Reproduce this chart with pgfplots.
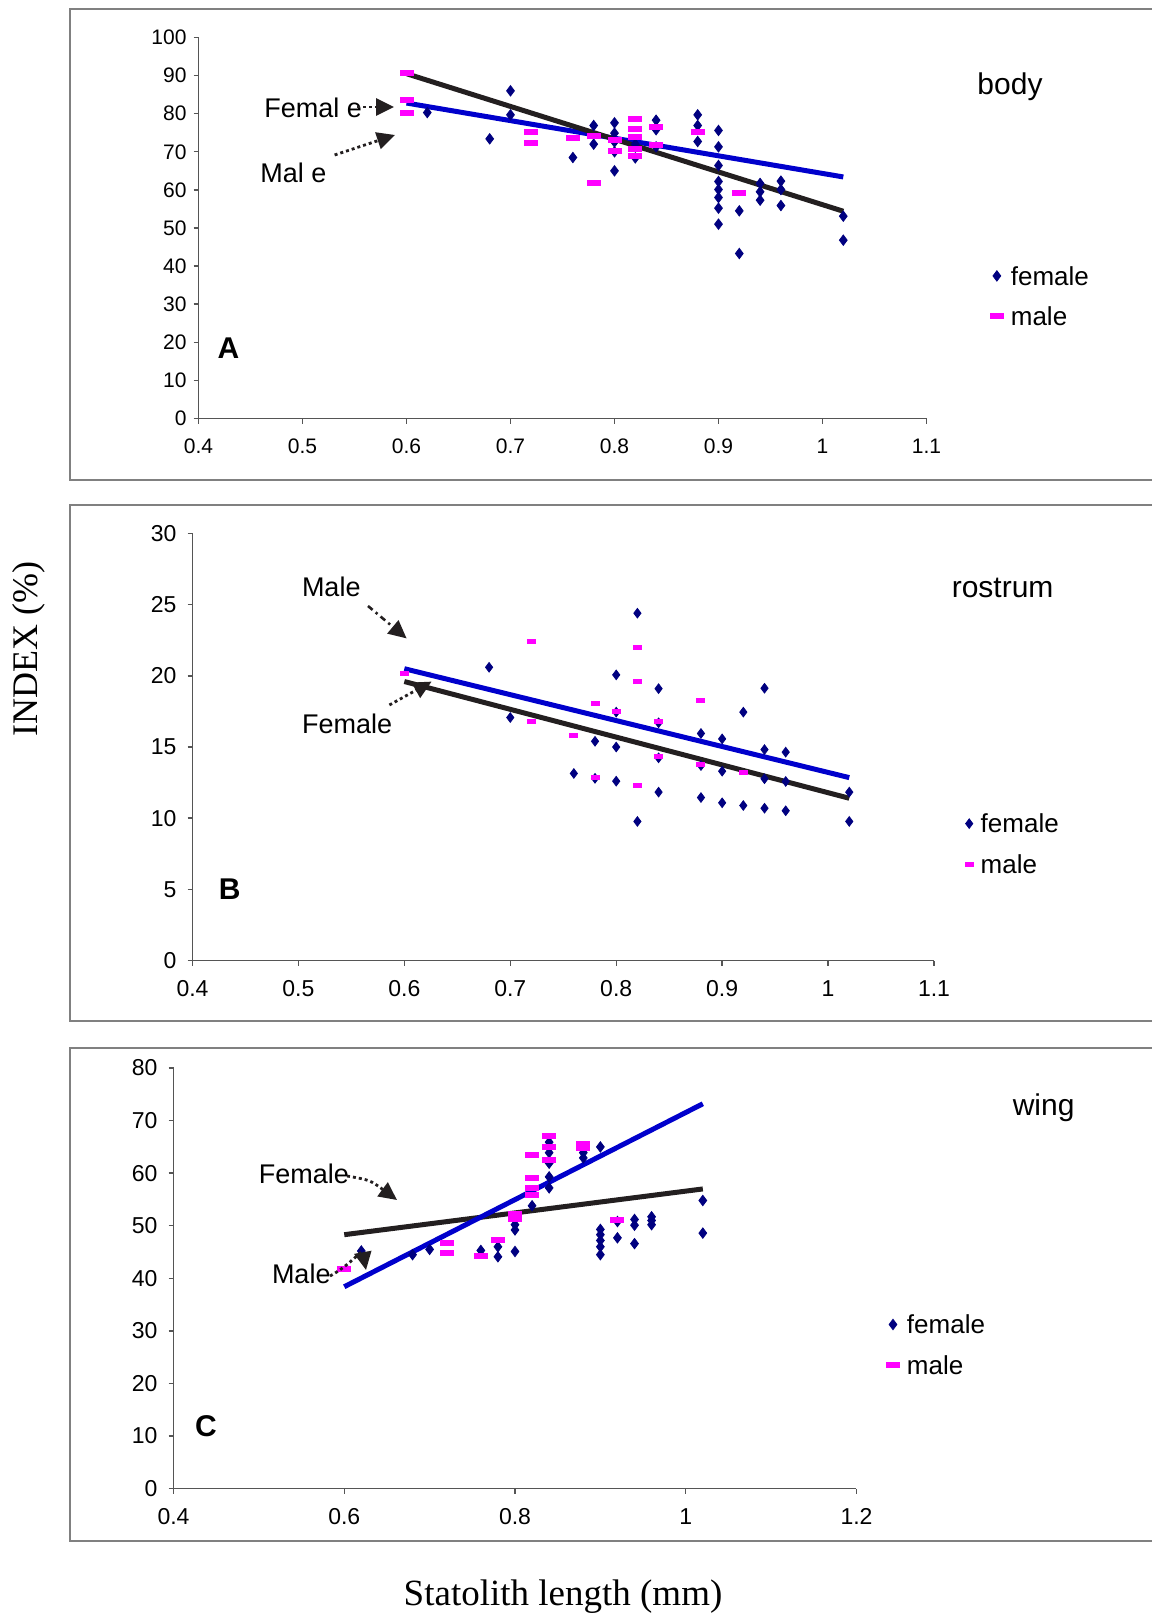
\documentclass[border=0pt]{standalone}
\usepackage{fontspec}
\setmainfont{Liberation Sans}
\newfontfamily\seriffont{Liberation Serif}
\usepackage{pgfplots}
\pgfplotsset{compat=1.18}
\usetikzlibrary{arrows.meta}
\definecolor{fnavy}{HTML}{000080}
\definecolor{mmag}{HTML}{FF00FF}
\definecolor{lblue}{HTML}{0000CC}
\definecolor{lblack}{HTML}{231F20}
\definecolor{framegray}{HTML}{808080}
\definecolor{axgray}{HTML}{555555}
\pgfdeclareplotmark{mrectA}{\pgfpathrectangle{\pgfpoint{-3.5pt}{-1.5pt}}{\pgfpoint{7pt}{3pt}}\pgfusepathqfill}
\pgfdeclareplotmark{mrectB}{\pgfpathrectangle{\pgfpoint{-2.25pt}{-1.25pt}}{\pgfpoint{4.5pt}{2.5pt}}\pgfusepathqfill}
\pgfplotsset{
  panel/.style={
    scale only axis, axis lines=left,
    axis line style={-, draw=axgray, line width=0.7pt},
    tick style={draw=axgray, line width=0.7pt}, tick align=outside, major tick length=2.5pt,
    /pgf/number format/assume math mode=true,
    clip=false, anchor=south west,
    xticklabel style={yshift=-4pt},
    legend style={draw=none, fill=none, inner sep=0pt, anchor=north west, column sep=2.5pt, row sep=8.9pt,
      font=\fontsize{13}{15}\selectfont, nodes={inner sep=1pt, text height=9.3pt, text depth=0pt}},
    legend cell align=left,
  },
  fem/.style={only marks, mark=diamond*, mark size=2.6pt, color=fnavy,
    legend image code/.code={\draw[##1] plot coordinates {(0pt,0pt)};}},
  malA/.style={only marks, mark=mrectA, color=mmag,
    legend image code/.code={\draw[##1] plot coordinates {(0pt,0pt)};}},
  malB/.style={only marks, mark=mrectB, color=mmag,
    legend image code/.code={\draw[##1] plot coordinates {(0pt,0pt)};}},
  tline/.style={line width=2.5pt, forget plot, mark=none},
}
\tikzset{dotarrow/.style={draw=lblack, line width=1.4pt, dash pattern=on 1.5pt off 1.5pt, -{Triangle[length=9pt,width=8.5pt]}},
  dasharrow/.style={draw=lblack, line width=1.3pt, dash pattern=on 3pt off 2pt on 1.2pt off 2pt, -{Triangle[length=9pt,width=8.5pt]}}}
\begin{document}
\begin{tikzpicture}
\path[use as bounding box] (0pt,0pt) rectangle (575.5pt,-807.5pt);
% frames
\draw[framegray, line width=1pt] (35pt,-4.5pt) rectangle (590pt,-240pt);
\draw[framegray, line width=1pt] (35pt,-252.25pt) rectangle (590pt,-510.65pt);
\draw[framegray, line width=1pt] (35pt,-524pt) rectangle (590pt,-770.5pt);

% ---------------- Panel A ----------------
\begin{axis}[panel, at={(99.25pt,-209.25pt)}, width=364pt, height=190.5pt,
  xmin=0.4, xmax=1.1, ymin=0, ymax=100,
  xtick={0.4,0.5,0.6,0.7,0.8,0.9,1,1.1}, ytick={0,10,20,30,40,50,60,70,80,90,100},
  tick label style={font=\fontsize{10.5}{12}\selectfont},
  legend style={at={(axis description cs:1.0865,0.405)}}]
\addplot[fem] coordinates {
(0.62,80.3) (0.68,73.4) (0.70,86.0) (0.70,79.7) (0.76,68.5) (0.78,76.9) (0.78,72.0)
(0.80,77.6) (0.80,74.9) (0.80,72.6) (0.80,70.0) (0.80,65.0) (0.82,72.0) (0.82,68.4)
(0.84,78.3) (0.84,75.8) (0.84,71.3) (0.88,79.7) (0.88,76.9) (0.88,72.7)
(0.90,75.6) (0.90,71.3) (0.90,66.4) (0.90,62.2) (0.90,60.1) (0.90,58.0) (0.90,55.2) (0.90,51.0)
(0.92,54.5) (0.92,43.3) (0.94,61.7) (0.94,59.5) (0.94,57.3) (0.96,62.3) (0.96,60.1) (0.96,55.9)
(1.02,53.1) (1.02,46.8)};
\addlegendentry{female}
\addplot[malA] coordinates {
(0.60,90.6) (0.60,83.5) (0.60,80.1) (0.72,75.1) (0.72,72.2) (0.76,73.7) (0.78,74.2) (0.78,61.7)
(0.80,73.0) (0.80,70.1) (0.82,78.5) (0.82,75.9) (0.82,73.8) (0.82,70.8) (0.82,68.8)
(0.84,76.5) (0.84,71.7) (0.88,75.1) (0.92,59.1)};
\addlegendentry{male}
\addplot[tline, lblue] coordinates {(0.6,82.8) (1.02,63.4)};
\addplot[tline, lblack] coordinates {(0.6,90.5) (1.02,54.4)};
\end{axis}

% ---------------- Panel B ----------------
\begin{axis}[panel, at={(96.25pt,-480.25pt)}, width=370.75pt, height=213.5pt,
  xmin=0.4, xmax=1.1, ymin=0, ymax=30,
  xtick={0.4,0.5,0.6,0.7,0.8,0.9,1,1.1}, ytick={0,5,10,15,20,25,30},
  tick label style={font=\fontsize{11.5}{13}\selectfont},
  yticklabel style={xshift=-2pt},
  legend style={at={(axis description cs:1.0409,0.348)}}]
\addplot[fem, mark size=2.4pt] coordinates {
(0.68,20.6) (0.70,17.07) (0.76,13.14) (0.78,15.4) (0.78,12.8)
(0.80,20.07) (0.80,17.45) (0.80,15.0) (0.80,12.6) (0.82,24.4) (0.82,9.77)
(0.84,19.1) (0.84,16.7) (0.84,14.24) (0.84,11.83) (0.88,15.95) (0.88,13.7) (0.88,11.45)
(0.90,15.57) (0.90,13.3) (0.90,11.08) (0.92,17.45) (0.92,10.89)
(0.94,19.13) (0.94,14.82) (0.94,12.77) (0.94,10.7) (0.96,14.64) (0.96,12.58) (0.96,10.52)
(1.02,11.83) (1.02,9.77)};
\addlegendentry{female}
\addplot[malB] coordinates {
(0.60,20.16) (0.72,22.41) (0.72,16.8) (0.76,15.8) (0.78,18.06) (0.78,12.86) (0.80,17.52)
(0.82,22.0) (0.82,19.62) (0.82,12.3) (0.84,16.8) (0.84,14.35) (0.88,18.29) (0.88,13.75) (0.92,13.23)};
\addlegendentry{male}
\addplot[tline, lblue] coordinates {(0.6,20.5) (1.02,12.85)};
\addplot[tline, lblack] coordinates {(0.6,19.6) (1.02,11.4)};
\end{axis}

% ---------------- Panel C ----------------
\begin{axis}[panel, at={(86.75pt,-744.3pt)}, width=341.5pt, height=210.3pt,
  xmin=0.4, xmax=1.2, ymin=0, ymax=80,
  xtick={0.4,0.6,0.8,1,1.2}, ytick={0,10,20,30,40,50,60,70,80},
  tick label style={font=\fontsize{11.5}{13}\selectfont},
  yticklabel style={xshift=-2pt},
  legend style={at={(axis description cs:1.0426,0.418)}}]
\addplot[fem] coordinates {
(0.62,45.2) (0.68,44.5) (0.70,45.5) (0.76,45.3) (0.78,46.0) (0.78,44.1)
(0.80,50.2) (0.80,49.2) (0.80,45.1) (0.82,53.8)
(0.84,65.9) (0.84,63.9) (0.84,61.9) (0.84,59.3) (0.84,57.2) (0.88,63.9) (0.88,62.9)
(0.90,65.0) (0.90,49.3) (0.90,48.3) (0.90,47.2) (0.90,46.0) (0.90,44.5)
(0.92,50.8) (0.92,47.7) (0.94,51.2) (0.94,50.1) (0.94,46.6)
(0.96,51.7) (0.96,51.0) (0.96,50.2) (1.02,54.8) (1.02,48.6)};
\addlegendentry{female}
\addplot[malA] coordinates {
(0.60,41.8) (0.72,46.8) (0.72,44.9) (0.76,44.3) (0.78,47.3) (0.80,51.2) (0.80,52.3)
(0.82,63.5) (0.82,59.0) (0.82,57.1) (0.82,55.9) (0.84,67.1) (0.84,65.0) (0.84,62.5)
(0.88,65.6) (0.88,64.7) (0.92,51.0)};
\addlegendentry{male}
\addplot[tline, lblack] coordinates {(0.6,48.3) (1.02,57.0)};
\addplot[tline, lblue] coordinates {(0.6,38.4) (1.02,73.2)};
\end{axis}

% ---------------- texts ----------------
\begin{scope}[every node/.style={inner sep=0pt}]
\node[font=\fontsize{15}{17}\selectfont] at (505pt,-43.2pt) {body};
\node[font=\fontsize{15}{17}\selectfont] at (501.3pt,-294pt) {rostrum};
\node[font=\fontsize{15}{17}\selectfont] at (521.8pt,-553.8pt) {wing};
\node[font=\fontsize{15}{17}\selectfont\bfseries] at (114.2pt,-174pt) {A};
\node[font=\fontsize{15}{17}\selectfont\bfseries] at (114.8pt,-444.7pt) {B};
\node[font=\fontsize{15}{17}\selectfont\bfseries] at (103pt,-713pt) {C};
\node[font=\seriffont\fontsize{18}{20}\selectfont, rotate=90] at (14.4pt,-324.3pt) {INDEX (\%)};
\node[font=\seriffont\fontsize{18.5}{20}\selectfont] at (281.5pt,-798.5pt) {Statolith length (mm)};
% annotations A
\node[anchor=west, font=\fontsize{13.5}{15}\selectfont] at (132pt,-54pt) {Femal e};
\draw[dotarrow] (178.5pt,-53.5pt) -- (197pt,-53.5pt);
\node[anchor=west, font=\fontsize{13.5}{15}\selectfont] at (130pt,-86.5pt) {Mal e};
\draw[dotarrow] (167.3pt,-77.5pt) -- (197.5pt,-67.5pt);
% annotations B
\node[anchor=west, font=\fontsize{13.5}{15}\selectfont] at (150.8pt,-293.6pt) {Male};
\draw[dasharrow] (184pt,-303pt) -- (203.3pt,-319.2pt);
\node[anchor=west, font=\fontsize{13.5}{15}\selectfont] at (150.8pt,-361.7pt) {Female};
\draw[dotarrow] (194.7pt,-352.5pt) -- (215.8pt,-340.8pt);
% annotations C
\node[anchor=west, font=\fontsize{13.5}{15}\selectfont] at (129.2pt,-586.7pt) {Female};
\draw[dotarrow] (173.5pt,-588pt) .. controls (185pt,-590pt) .. (198.5pt,-600pt);
\node[anchor=west, font=\fontsize{13.5}{15}\selectfont] at (135.8pt,-636.7pt) {Male};
\draw[dotarrow] (165pt,-638pt) .. controls (176pt,-632pt) and (181pt,-624pt) .. (183pt,-635pt);
\end{scope}
\end{tikzpicture}
\end{document}
